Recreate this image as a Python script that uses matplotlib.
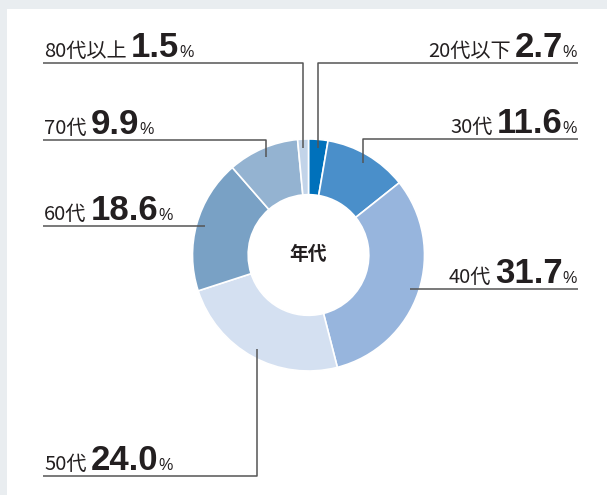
import numpy as np
import matplotlib
matplotlib.use('Agg')
import matplotlib.pyplot as plt
from matplotlib.patches import Rectangle

# データ（時計回り、12時の位置から）
ages = ['20代以下', '30代', '40代', '50代', '60代', '70代', '80代以上']
shares = [2.7, 11.6, 31.7, 24.0, 18.6, 9.9, 1.5]
colors = ['#0071bb', '#4a8fca', '#97b5dd', '#d4e0f1', '#79a1c5', '#94b3d1', '#c2d4e9']

# ラベルの配置（ピクセル、上から）: 左右と行の高さ（None は水平線）
sides = ['right', 'right', 'right', 'left', 'left', 'left', 'left']
rows = [63, 139, None, 476, None, 140, 63]

W, H = 607, 495
fig = plt.figure(figsize=(W / 100, H / 100), dpi=100, facecolor='#e9edf0')
ax = fig.add_axes([0, 0, 1, 1])
ax.set_axis_off()

cx, cy, R = 308.5, H - 255, 116
wedges, _ = ax.pie(shares, colors=colors, startangle=90, counterclock=False,
                   center=(cx, cy), radius=R,
                   wedgeprops=dict(width=R * 0.48, edgecolor='white', linewidth=1.2))
ax.set_xlim(0, W)
ax.set_ylim(0, H)
ax.set_aspect('equal')

# 白いパネル
ax.add_patch(Rectangle((7, 0), W - 7, H - 9, facecolor='white', edgecolor='none', zorder=0))

ax.text(cx, cy, '年代', ha='center', va='center', fontsize=13.5, fontweight='bold',
        family='Noto Sans CJK JP', color='#231f20')

renderer = fig.canvas.get_renderer()
line_kw = dict(color='#555555', lw=1.1, solid_capstyle='butt')
xl, xr = 43, 578
txt = '#231f20'


def draw_label(x, y, parts, side):
    # parts: (文字列, フォント, サイズ, 太さ, 前の余白)
    if side == 'left':
        for s, fam, size, wt, gap in parts:
            x += gap
            t = ax.text(x, y, s, family=fam, fontsize=size, fontweight=wt,
                        ha='left', va='baseline', color=txt)
            x += t.get_window_extent(renderer).width
    else:
        for i in range(len(parts) - 1, -1, -1):
            s, fam, size, wt, gap = parts[i]
            t = ax.text(x, y, s, family=fam, fontsize=size, fontweight=wt,
                        ha='right', va='baseline', color=txt)
            x -= t.get_window_extent(renderer).width + gap


for w, age, val, side, row in zip(wedges, ages, shares, sides, rows):
    mid = np.deg2rad((w.theta1 + w.theta2) / 2)
    ax_x = cx + 107 * np.cos(mid)
    ax_y = cy + 107 * np.sin(mid)
    edge = xl if side == 'left' else xr
    if row is None:
        ly = ax_y
        ax.plot([edge, ax_x], [ly, ly], **line_kw)
    else:
        ly = H - row
        ax.plot([edge, ax_x, ax_x], [ly, ly, ax_y], **line_kw)
    parts = [(age, 'Noto Sans CJK JP', 14.5, 'normal', 0),
             (f'{val:.1f}', 'Liberation Sans', 25, 'bold', 4),
             ('%', 'Liberation Sans', 11.5, 'normal', 0)]
    start = xl + 1 if side == 'left' else xr - 1
    draw_label(start, ly + 6, parts, side)

fig.savefig('out.png', dpi=100, facecolor=fig.get_facecolor())
